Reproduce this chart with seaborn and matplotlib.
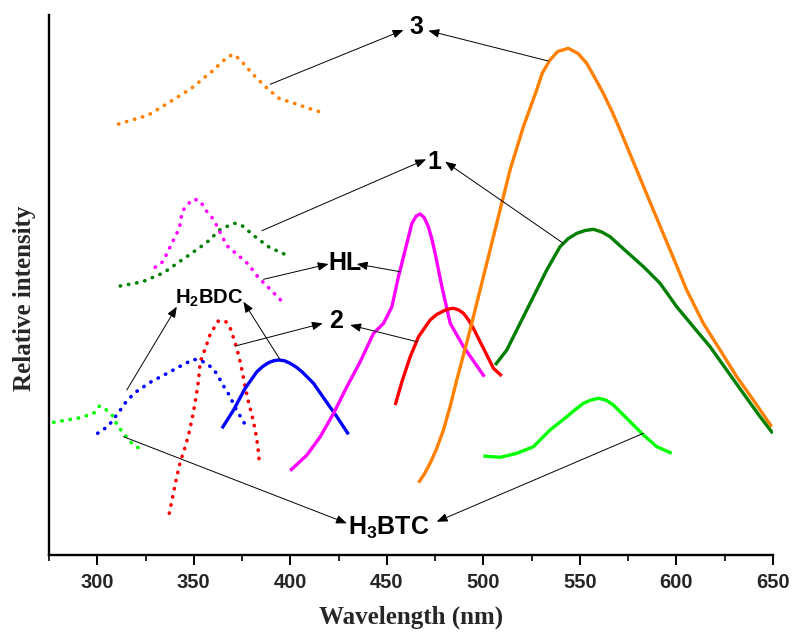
import numpy as np
import matplotlib
matplotlib.use("Agg")
import matplotlib.pyplot as plt
import seaborn as sns

# ---------------- data (wavelength nm, relative intensity a.u.) ----------------
# excitation spectra (dotted)
ex3_wl = [311.0, 326.2, 337.3, 348.5, 359.2, 366.3, 370.1, 373.7, 380.1, 387.4, 394.4, 402.0, 409.4, 416.8]
ex3_int = [431, 439.7, 452.7, 466.3, 483.3, 496, 500.7, 496, 481.7, 467.7, 456.3, 451.7, 446.7, 442.3]

ex1_wl = [311.9, 323.5, 334.5, 342.1, 349.3, 356.8, 364.0, 371.1, 374.6, 381.8, 389.1, 396.8]
ex1_int = [269, 273.3, 282.3, 292.7, 302.3, 312.7, 326, 331.7, 330, 318.3, 307.7, 301]

exHL_wl = [330.0, 334.0, 339.5, 342.6, 344.0, 346.4, 349.9, 353.3, 356.8, 360.2, 367.1, 374.0, 378.3, 383.5, 387.4, 394.1, 397.3]
exHL_int = [287.7, 293.3, 315, 327.3, 343.3, 350, 356, 354, 343.3, 335.7, 309.3, 298, 290.7, 277.3, 270, 256.7, 250.7]

ex2_wl = [337.3, 339.5, 341.2, 343.0, 345.6, 347.6, 349.3, 350.7, 352.4, 353.3, 356.3, 358.5, 362.8, 366.6, 368.9,
          371.5, 373.5, 375.2, 376.6, 378.3, 380.1, 381.8, 383.2, 384.0]
ex2_int = [41.7, 62.3, 78.3, 93.3, 108.3, 122.7, 138, 152.3, 174, 193, 208.3, 221, 234.3, 233.3, 226.7,
           211.7, 197.7, 182.3, 168.3, 153.3, 140, 125, 108.3, 91]

exBDC_wl = [300.2, 305.8, 308.4, 311.4, 314.0, 317.1, 320.9, 328.3, 335.6, 342.5, 349.9, 353.9, 357.7, 361.1,
            363.7, 365.8, 368.9, 370.9, 373.7, 375.7, 378.3]
exBDC_int = [121.7, 129, 136, 143.3, 151, 157.7, 164.3, 173.7, 181, 188.3, 195.7, 194.3, 190, 183.3,
             175, 167.7, 158.3, 149, 140, 133.3, 125.7]

exBTC_wl = [277.4, 284.3, 291.2, 298.1, 301.2, 303.6, 305.9, 308.4, 310.2, 313.6, 317.1, 320.2, 323.5]
exBTC_int = [132.7, 135, 137.3, 141.7, 149, 146.7, 143.3, 138.3, 130, 121.7, 113.3, 108.3, 105]

# emission spectra (solid)
emBDC_wl = [364.6, 370.6, 376.6, 382.7, 385.7, 388.7, 391.3, 393.9, 396.9, 399.9, 403.0, 406.0, 412.0, 418.0,
            424.1, 430.1]
emBDC_int = [126.7, 145, 166.7, 183.3, 188.5, 192.3, 194.2, 195, 194.3, 191.7, 188, 183.3, 171.7, 155,
             138.3, 120.7]

emHL_wl = [399.9, 408.6, 415.5, 422.4, 429.3, 436.2, 443.1, 448.3, 452.6, 456.0, 459.5, 461.3, 463.0, 465.2,
           467.2, 469.3, 471.5, 473.3, 475.0, 478.5, 482.8, 489.7, 495.7, 500.5]
emHL_int = [84.3, 100, 118.3, 141.7, 168.3, 193.3, 221.7, 231.7, 248.3, 278.3, 305, 319, 331.7, 339,
            341, 337.5, 328.3, 316, 301.7, 268.3, 231.7, 208.3, 191.7, 178.3]

em2_wl = [454.3, 457.8, 462.1, 466.4, 472.4, 475.8, 479.3, 482.0, 484.5, 487.0, 489.7, 492.3, 494.8, 500.0,
          505.2, 509.5]
em2_int = [150, 173.3, 198.3, 218.3, 235, 240.5, 244, 246, 246.7, 245.2, 241.7, 235, 226.7, 206.7,
           186.7, 179]

em3_wl = [466.4, 469.4, 472.4, 475.8, 479.3, 482.7, 486.2, 493.1, 500.0, 506.9, 513.8, 520.7, 527.6, 530.5,
          534.5, 538.5, 544.0, 549.0, 553.5, 557.5, 562.1, 566.5, 570.8, 579.4, 588.0, 596.7, 605.3, 613.9,
          622.6, 631.2, 639.8, 649.3]
em3_int = [72.3, 81, 91.7, 106.5, 125, 148, 175, 225, 278.3, 331.7, 385, 428.3, 465, 482,
           495, 503.5, 506.7, 501.5, 491.7, 478, 461.7, 444, 425, 385, 345, 305, 265, 231.7,
           205, 178.3, 155, 128.3]

em1_wl = [506.1, 512.1, 519.0, 525.9, 532.8, 539.7, 544.0, 548.4, 552.7, 557.0, 561.3, 565.6, 574.2, 582.9,
          591.5, 600.1, 608.7, 617.4, 626.0, 634.6, 643.3, 649.9]
em1_int = [190, 205, 231.7, 258.3, 285, 308.3, 316.5, 321.7, 324.5, 325.7, 323, 318.3, 303.3, 288.3,
           271.7, 248.3, 228.3, 208.3, 185, 161.7, 138.3, 121.7]

emBTC_wl = [500.0, 508.7, 517.3, 525.9, 534.5, 543.2, 547.5, 551.8, 555.7, 559.6, 563.5, 567.3, 571.5, 576.0,
            582.9, 589.8, 597.5]
emBTC_int = [99, 97.7, 101.7, 108.3, 125, 138.3, 145.3, 151.7, 155, 156.7, 154.9, 150, 142, 133.3,
             120, 108.3, 101.7]

x_ticks = [300, 350, 400, 450, 500, 550, 600, 650]

# ---------------- style ----------------
sns.set_theme(style="ticks")
plt.rcParams["font.family"] = ["Liberation Sans", "DejaVu Sans"]
plt.rcParams["mathtext.default"] = "regular"

ORANGE = "#FF8000"
DKGREEN = "#007F00"
MAGENTA = "#FF00FF"
RED = "#FF0000"
BLUE = "#0000FF"
LTGREEN = "#00FF00"

fig = plt.figure(figsize=(7.92, 6.35), dpi=100)
ax = fig.add_axes([49 / 792, 1 - 555 / 635, 724 / 792, 540 / 635])

dotted = dict(linestyle=(0, (0.1, 2.2)), dash_capstyle="round", linewidth=2.6)
solid = dict(linestyle="-", linewidth=2.4, solid_capstyle="butt", solid_joinstyle="round")

series = [
    (ex3_wl, ex3_int, ORANGE, dotted),
    (ex1_wl, ex1_int, DKGREEN, dotted),
    (exHL_wl, exHL_int, MAGENTA, dotted),
    (ex2_wl, ex2_int, RED, dotted),
    (exBDC_wl, exBDC_int, BLUE, dotted),
    (exBTC_wl, exBTC_int, LTGREEN, dotted),
    (emBDC_wl, emBDC_int, BLUE, solid),
    (emHL_wl, emHL_int, MAGENTA, solid),
    (em2_wl, em2_int, RED, solid),
    (em3_wl, em3_int, ORANGE, solid),
    (em1_wl, em1_int, DKGREEN, solid),
    (emBTC_wl, emBTC_int, LTGREEN, solid),
]
for wl, inten, col, sty in series:
    sns.lineplot(x=wl, y=inten, color=col, ax=ax, estimator=None, sort=False, **sty)

ax.set_xlim(275, 650)
ax.set_ylim(0, 540)
ax.set_xticks(x_ticks)
ax.set_xticks(np.arange(275, 651, 25), minor=True)
ax.set_yticks([])
sns.despine(ax=ax, top=True, right=True)
for s in ["left", "bottom"]:
    ax.spines[s].set_linewidth(1.7)
    ax.spines[s].set_color("black")
ax.tick_params(axis="x", which="major", direction="out", length=7, width=1.4, pad=6,
               labelsize=14.5, color="black")
ax.tick_params(axis="x", which="minor", direction="out", length=4.5, width=1.2, color="black")
for lab in ax.get_xticklabels():
    lab.set_fontweight("bold")

ax.set_xlabel("Wavelength (nm)", fontsize=18, fontweight="bold",
              family=["Liberation Serif", "DejaVu Serif"])
ax.set_ylabel("Relative intensity", fontsize=18, fontweight="bold",
              family=["Liberation Serif", "DejaVu Serif"])
ax.xaxis.set_label_coords(0.5, -0.094)
ax.yaxis.set_label_coords(-0.018, 0.476)

# ---------------- annotations ----------------
labels = [
    # text, (x, y) centre, fontsize, [(tail, head), ...]
    ("3", (465.2, 528), 18, [((389.6, 470.7), (458.6, 525)), ((533.6, 494), (471.5, 524.3))]),
    ("1", (474.6, 393), 18, [((385.3, 324.3), (470.3, 395.7)), ((541.4, 311.7), (480.2, 393.3))]),
    ("HL", (428.4, 292.5), 18, [((386.1, 275.7), (419.8, 291)), ((456.9, 283.3), (434.4, 291))]),
    ("2", (423.9, 234), 18, [((371.5, 209), (416.8, 231.7)), ((465.5, 213.3), (431.0, 230))]),
    ("H$_2$BDC", (357.9, 257), 14.5, [((315.3, 165), (341.2, 248.3)), ((394.8, 195), (375.7, 253.3))]),
    ("H$_3$BTC", (451.2, 27.5), 18, [((313.6, 118.3), (429.3, 31.7)), ((582.9, 121.7), (475.8, 33.3))]),
]
for text, (tx, ty), fs, arrows in labels:
    ax.text(tx, ty, text, fontsize=fs, fontweight="bold", ha="center", va="center",
            color="black", zorder=5)
    for tail, head in arrows:
        ax.annotate("", xy=head, xytext=tail,
                    arrowprops=dict(arrowstyle="-|>,head_length=0.5,head_width=0.2",
                                    mutation_scale=13, lw=0.7, color="black",
                                    shrinkA=0, shrinkB=0), zorder=4)

fig.savefig("out.png", dpi=100, facecolor="white")
